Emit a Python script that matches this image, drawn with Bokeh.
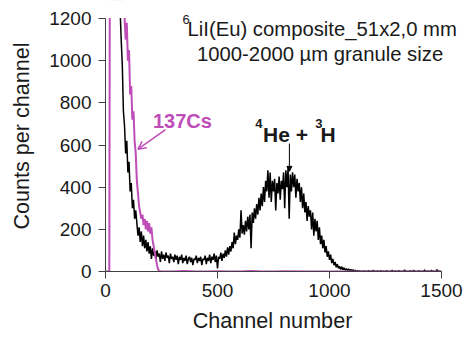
import numpy as np
from bokeh.plotting import figure
from bokeh.models import Range1d, Label, Arrow, OpenHead, NormalHead, FixedTicker, BoxAnnotation
from bokeh.embed import file_html
from bokeh.resources import INLINE

# ---------------- data ----------------
# neutron-exposed composite spectrum: counts every 5 channels from channel 60
# (values above 1200 run off the top of the plot and are not readable)
black_start = 60
black_step = 5
black_counts = [
    1280, 1250, 1100, 980, 760, 690, 560, 620,                       # 60-95
    470, 520, 380, 420, 300, 340, 250, 290, 230, 170,                # 100-145
    210, 140, 190, 120, 170, 110, 150, 95, 140, 85,                  # 150-195
    120, 60, 110, 75, 95, 55, 100, 70, 85, 45,                       # 200-245
    95, 60, 80, 50, 90, 65, 75, 40, 85, 60,                          # 250-295
    70, 45, 80, 55, 75, 35, 70, 55, 80, 40,                          # 300-345
    65, 50, 75, 35, 60, 70, 45, 65, 30, 60,                          # 350-395
    55, 75, 40, 65, 50, 70, 30, 60, 55, 75,                          # 400-445
    35, 65, 50, 80, 40, 70, 55, 85, 45, 75,                          # 450-495
    15, 70, 60, 90, 50, 85, 65, 100, 70, 115,                        # 500-545
    80, 120, 95, 140, 110, 185, 130, 170, 150, 200,                  # 550-595
    160, 290, 180, 220, 175, 240, 190, 260, 200, 270,                # 600-645
    110, 280, 230, 300, 250, 320, 270, 350, 290, 370,                # 650-695
    310, 400, 330, 430, 380, 480, 350, 470, 330, 430,                # 700-745
    380, 440, 290, 420, 370, 450, 340, 430, 390, 470,                # 750-795
    300, 480, 400, 490, 250, 460, 380, 470, 400, 460,                # 800-845
    350, 440, 380, 420, 330, 400, 300, 370, 280, 330,                # 850-895
    240, 310, 260, 290, 200, 280, 170, 250, 190, 240,                # 900-945
    150, 210, 130, 170, 110, 150, 90, 120, 70, 95,                   # 950-995
    55, 80, 40, 60, 30, 45, 20, 35, 15, 25,                          # 1000-1045
    10, 22, 8, 18, 6, 14, 5, 12, 4, 10,                              # 1050-1095
    3, 8, 2, 6, 1, 4, 0, 3, 0, 2,                                    # 1100-1145
    0, 3, 0, 1, 0, 4, 0, 2, 0, 6,                                    # 1150-1195
    0, 1, 0, 3, 0, 0, 5, 0, 1, 0,                                    # 1200-1245
    0, 4, 0, 0, 2, 0, 6, 0, 0, 3,                                    # 1250-1295
    0, 0, 5, 0, 1, 0, 0, 7, 0, 2,                                    # 1300-1345
    0, 0, 4, 0, 0, 6, 0, 1, 0, 0,                                    # 1350-1395
    5, 0, 0, 2, 0, 8, 0, 0, 3, 0,                                    # 1400-1445
    0, 6, 0, 1, 0, 0, 9, 0, 2, 0,                                    # 1450-1495
    0,                                                               # 1500
]

# 137Cs gamma spectrum
cs_channels = [0, 10, 17, 19, 25, 40, 60, 75, 80, 85, 90, 95, 100, 105, 110,
               115, 120, 125, 130, 135, 140, 145, 150, 155, 160, 165, 170,
               175, 180, 185, 190, 195, 200, 205, 210, 215, 220, 225, 230,
               235, 240, 250, 300, 350, 400, 450, 500, 550, 600, 650, 700,
               750, 800, 900, 1000, 1100, 1200, 1300, 1400, 1500]
cs_counts = [0, 0, 0, 1280, 1280, 1280, 1280, 1280, 1280, 1210, 1100, 1180,
             1000, 1050, 840, 880, 720, 760, 620, 560, 430, 370, 310, 280,
             250, 270, 220, 250, 200, 240, 190, 230, 180, 210, 150, 120, 90,
             60, 30, 10, 2, 0, 0, 2, 0, 0, 1, 0, 0, 2, 0, 0, 1, 0, 0, 0, 0,
             0, 0, 0]

x_ticks = [0, 500, 1000, 1500]
y_ticks = [0, 200, 400, 600, 800, 1000, 1200]
x_max = 1500
y_max = 1200

MAGENTA = "#BF4DB8"
TEXT = "#1a1a1a"
FONT = "Liberation Sans"

black_channels = black_start + black_step * np.arange(len(black_counts))

# plotting frame reaches the page's top and right edges so the title block is not clipped;
# axes are bounded to the data span (0-1500, 0-1200)
FRAME_W, PLOT_W = 358, 336     # pixels: whole frame / span 0..1500
FRAME_H, PLOT_H = 271, 253     # pixels: whole frame / span 0..1200
p = figure(width=463, height=337, output_backend="svg", toolbar_location=None,
           x_range=Range1d(0, x_max * FRAME_W / PLOT_W),
           y_range=Range1d(0, y_max * FRAME_H / PLOT_H),
           min_border_left=105, min_border_right=0, min_border_top=0,
           min_border_bottom=66)
p.outline_line_color = None
p.xgrid.visible = False
p.ygrid.visible = False
p.background_fill_color = "white"

p.line(black_channels, black_counts, line_color="black", line_width=1.5)
p.line(cs_channels, cs_counts, line_color=MAGENTA, line_width=2)

# white mask above the 1200 level (the original plot area ends there)
mask = BoxAnnotation(bottom=y_max + 2, top=y_max * 3, left=-500, right=x_max * 3,
                     fill_color="white", fill_alpha=1.0,
                     line_color=None, level="glyph")
p.add_layout(mask)

for ax in (p.xaxis[0], p.yaxis[0]):
    ax.axis_line_color = "#404040"
    ax.major_tick_line_color = "#404040"
    ax.minor_tick_line_color = None
    ax.major_tick_in = 0
    ax.major_tick_out = 7
    ax.major_label_text_font = FONT
    ax.major_label_text_font_size = "19px"
    ax.major_label_text_color = TEXT
    ax.axis_label_text_font = FONT
    ax.axis_label_text_font_size = "21.6px"
    ax.axis_label_text_font_style = "normal"
    ax.axis_label_text_color = TEXT

p.xaxis[0].ticker = FixedTicker(ticks=x_ticks)
p.yaxis[0].ticker = FixedTicker(ticks=y_ticks)
p.xaxis[0].bounds = (0, x_max)
p.yaxis[0].bounds = (0, y_max)
# non-breaking spaces re-centre the title under the 0-1500 span of the widened frame
p.xaxis[0].axis_label = "Channel number" + "\u00a0" * 4
p.yaxis[0].axis_label = "Counts per channel"
p.xaxis[0].major_label_standoff = 5
p.yaxis[0].major_label_standoff = 7
p.xaxis[0].axis_label_standoff = 8
p.yaxis[0].axis_label_standoff = 12

# title block
p.add_layout(Label(x=344, y=1197, text="6", text_font=FONT, text_font_size="13px",
                   text_color=TEXT, text_baseline="alphabetic"))
p.add_layout(Label(x=366, y=1150, text="LiI(Eu) composite_51x2,0 mm", text_font=FONT,
                   text_font_size="20.3px", text_color=TEXT, text_baseline="alphabetic"))
p.add_layout(Label(x=958, y=1032, text="1000-2000 \u00b5m granule size", text_font=FONT,
                   text_font_size="20.3px", text_color=TEXT, text_align="center",
                   text_baseline="alphabetic"))

# 137Cs annotation
p.add_layout(Label(x=212, y=712, text="137Cs", text_font=FONT, text_font_size="20px",
                   text_font_style="bold", text_color=MAGENTA, text_baseline="alphabetic"))
p.add_layout(Arrow(x_start=268, y_start=673, x_end=145, y_end=580,
                   line_color=MAGENTA, line_width=1.5,
                   end=OpenHead(size=8, line_color=MAGENTA, line_width=1.5)))

# 4He + 3H annotation
p.add_layout(Label(x=668, y=700, text="4", text_font=FONT, text_font_size="13px",
                   text_font_style="bold", text_color=TEXT, text_baseline="alphabetic"))
p.add_layout(Label(x=703, y=652, text="He +", text_font=FONT, text_font_size="21px",
                   text_font_style="bold", text_color=TEXT, text_baseline="alphabetic"))
p.add_layout(Label(x=936, y=700, text="3", text_font=FONT, text_font_size="13px",
                   text_font_style="bold", text_color=TEXT, text_baseline="alphabetic"))
p.add_layout(Label(x=960, y=652, text="H", text_font=FONT, text_font_size="21px",
                   text_font_style="bold", text_color=TEXT, text_baseline="alphabetic"))
p.add_layout(Arrow(x_start=821, y_start=607, x_end=821, y_end=475,
                   line_color="black", line_width=1,
                   end=NormalHead(size=5, fill_color="black", line_color="black")))

open("out.html", "w").write(file_html(p, INLINE))
